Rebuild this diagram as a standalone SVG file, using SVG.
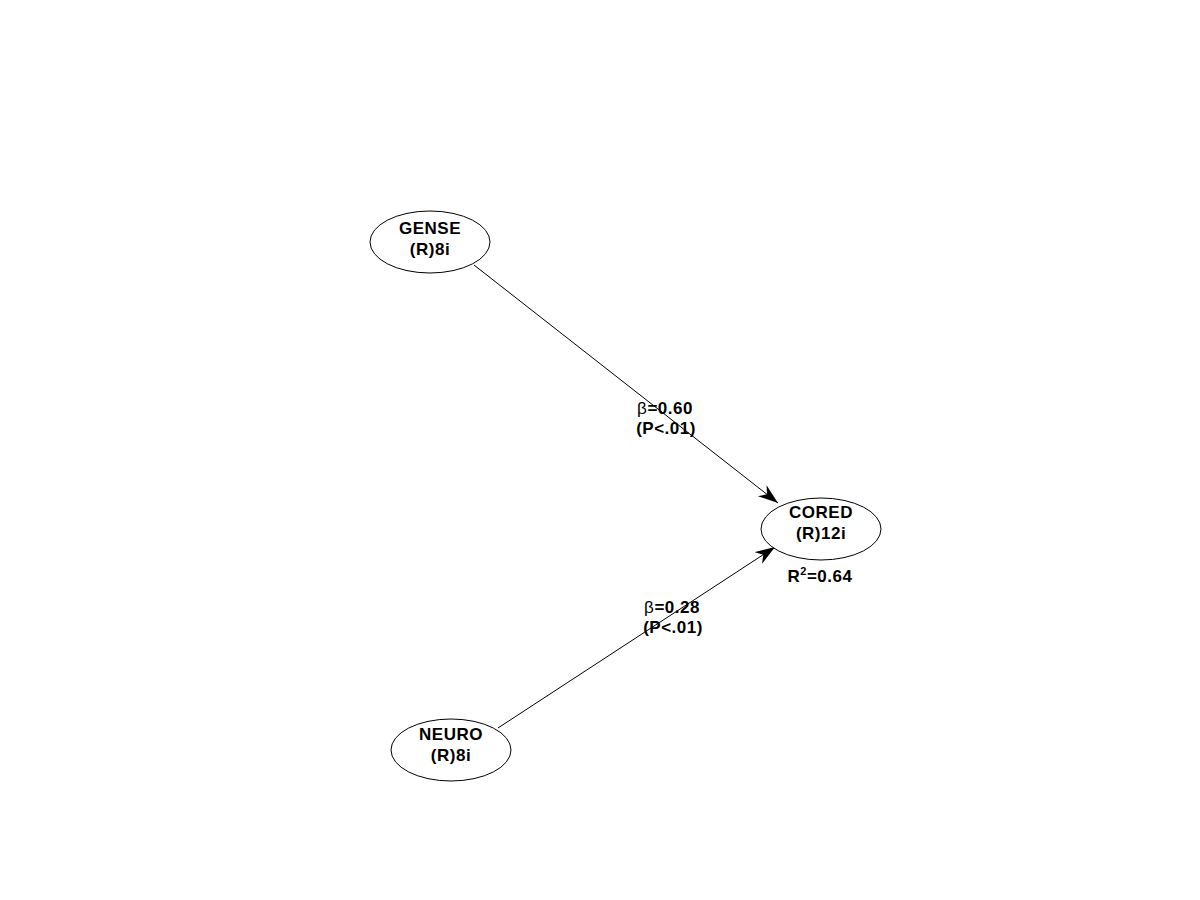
<svg xmlns="http://www.w3.org/2000/svg" width="1200" height="900" viewBox="0 0 1200 900">
<style>
.node ellipse{fill:#fff;stroke:#000;stroke-width:1}
text{font-family:"Liberation Sans",Arial,sans-serif;font-weight:bold;font-size:17px;text-anchor:middle;fill:#000;letter-spacing:0.5px}
.edge{stroke:#000;stroke-width:1;fill:none}
.b{font-weight:normal}
</style>
<defs>
<marker id="arr" markerUnits="userSpaceOnUse" markerWidth="22" markerHeight="16" refX="20" refY="7" orient="auto">
<path d="M0,0 L20,7 L0,14 L6,7 z" fill="#000"/>
</marker>
</defs>
<rect width="1200" height="900" fill="#fff"/>
<g id="connectors">
<line class="edge" x1="474" y1="265" x2="778" y2="503" marker-end="url(#arr)"/>
<line class="edge" x1="498" y1="728" x2="775" y2="547" marker-end="url(#arr)"/>
<text x="665" y="414"><tspan class="b">β</tspan>=0.60</text>
<text x="666" y="434">(P&lt;.01)</text>
<text x="672" y="613"><tspan class="b">β</tspan>=0.28</text>
<text x="673" y="633">(P&lt;.01)</text>
</g>
<g id="GENSE" class="node">
<ellipse cx="430" cy="242" rx="60" ry="31"/>
<text x="430" y="234">GENSE</text>
<text x="430" y="255">(R)8i</text>
</g>
<g id="CORED" class="node">
<ellipse cx="821" cy="529" rx="60" ry="31"/>
<text x="821" y="518">CORED</text>
<text x="821" y="539">(R)12i</text>
<text x="820" y="582">R<tspan font-size="11" dy="-7">2</tspan><tspan dy="7">=0.64</tspan></text>
</g>
<g id="NEURO" class="node">
<ellipse cx="451" cy="750" rx="60" ry="31"/>
<text x="451" y="740">NEURO</text>
<text x="451" y="761">(R)8i</text>
</g>
</svg>
